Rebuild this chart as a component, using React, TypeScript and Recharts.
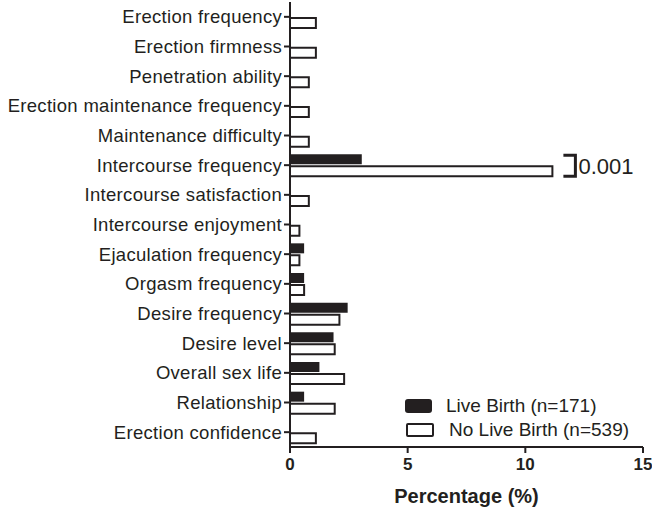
import { BarChart, Bar, XAxis, YAxis, Legend } from "recharts";

const categories = [
  "Erection frequency",
  "Erection firmness",
  "Penetration ability",
  "Erection maintenance frequency",
  "Maintenance difficulty",
  "Intercourse frequency",
  "Intercourse satisfaction",
  "Intercourse enjoyment",
  "Ejaculation frequency",
  "Orgasm frequency",
  "Desire frequency",
  "Desire level",
  "Overall sex life",
  "Relationship",
  "Erection confidence",
];
const liveBirth = [0, 0, 0, 0, 0, 3.05, 0, 0, 0.6, 0.6, 2.45, 1.85, 1.25, 0.6, 0];
const noLiveBirth = [1.1, 1.1, 0.8, 0.8, 0.8, 11.15, 0.8, 0.4, 0.4, 0.6, 2.1, 1.9, 2.3, 1.9, 1.1];
const xTicks = [0, 5, 10, 15];

const data = categories.map((name, i) => ({ name, lb: liveBirth[i], nlb: noLiveBirth[i] }));

const INK = "#231f20";
const FONT = "'Liberation Sans', Arial, sans-serif";

const PLabel = (props: any) => {
  const { x, y, width, index } = props;
  if (index !== 5) return null;
  const bx = x + width + 23;
  const top = y - 11;
  const bottom = y + 10;
  return (
    <g>
      <path d={`M${bx - 12},${top} H${bx} V${bottom} H${bx - 12}`} fill="none" stroke={INK} strokeWidth={3} />
      <text x={bx + 3} y={(top + bottom) / 2 + 8} fontSize={22} fill={INK} fontFamily={FONT}>0.001</text>
    </g>
  );
};

const LegendBox = () => (
  <div style={{ fontFamily: FONT, fontSize: 19, color: INK }}>
    <div style={{ display: "flex", alignItems: "center", height: 24 }}>
      <span style={{ width: 27, height: 14, background: INK, borderRadius: 3, marginRight: 14 }} />
      Live Birth (n=171)
    </div>
    <div style={{ display: "flex", alignItems: "center", height: 24 }}>
      <span style={{ width: 24, height: 10, border: `2px solid ${INK}`, borderRadius: 2, marginRight: 15, marginLeft: 1 }} />
      No Live Birth (n=539)
    </div>
  </div>
);

export default function App() {
  return (
    <div style={{ position: "absolute", left: 0, top: 0, background: "#fff" }}>
      <BarChart
        width={652}
        height={510}
        data={data}
        layout="vertical"
        margin={{ top: 2, right: 9, left: 0, bottom: 0 }}
        barSize={10}
        barGap={2}
        barCategoryGap={4}
      >
        <XAxis
          type="number"
          domain={[0, 15]}
          ticks={xTicks}
          height={63}
          stroke={INK}
          strokeWidth={2}
          tickSize={6}
          tickMargin={5}
          tick={{ fontSize: 17, fontWeight: 700, fill: INK, fontFamily: FONT }}
          label={{ value: "Percentage  (%)", position: "insideBottom", offset: 7, fontSize: 20, fontWeight: 700, fill: INK, fontFamily: FONT, style: { whiteSpace: "pre" } }}
        />
        <YAxis
          type="category"
          dataKey="name"
          width={290}
          stroke={INK}
          strokeWidth={2}
          tickSize={6}
          interval={0}
          tick={{ fontSize: 18.5, fill: INK, fontFamily: FONT, letterSpacing: 0.3 }}
        />
        <Legend
          layout="vertical"
          align="center"
          verticalAlign="middle"
          content={<LegendBox />}
          wrapperStyle={{ left: 405, top: 394, width: 245 }}
        />
        <Bar dataKey="lb" name="Live Birth (n=171)" fill={INK} isAnimationActive={false} />
        <Bar
          dataKey="nlb"
          name="No Live Birth (n=539)"
          fill="#fff"
          stroke={INK}
          strokeWidth={2}
          isAnimationActive={false}
          label={<PLabel />}
        />
      </BarChart>
    </div>
  );
}
